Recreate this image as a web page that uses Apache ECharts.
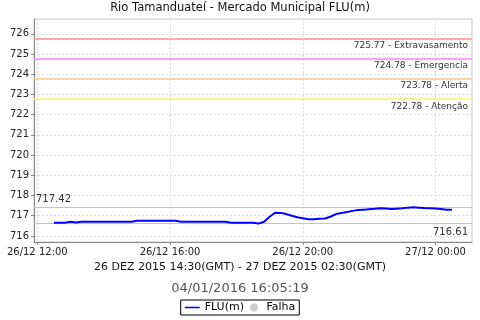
<!DOCTYPE html>
<html><head><meta charset="utf-8">
<script src="https://cdn.jsdelivr.net/npm/echarts@6/dist/echarts.min.js"></script>
<style>html,body{margin:0;padding:0;background:#fff}#c{width:480px;height:320px}</style>
</head><body><div id="c"></div>
<script>
// Times in hours since 26/12/2015 00:00 (local), 10-minute steps 12:30 .. 00:30
const startHour = 12.5;
const stepHours = 1/6;
const fluValues = [
  716.65,716.65,716.65,716.70,716.66,716.70,
  716.70,716.70,716.70,716.70,716.70,716.70,716.70,716.70,716.70,
  716.75,716.75,716.75,716.75,716.75,716.75,716.75,716.75,
  716.70,716.70,716.70,716.70,716.70,716.70,716.70,716.70,716.70,
  716.65,716.65,716.65,716.65,716.65,
  716.61,716.70,716.95,717.15,717.14,717.08,717.00,716.92,716.88,716.83,716.82,716.85,
  716.86,716.95,717.08,717.13,717.18,717.24,717.28,717.30,717.32,717.34,717.37,717.36,
  717.33,717.35,717.37,717.40,717.42,717.40,717.38,717.37,717.36,717.33,717.30,717.29
];
const xTicks = [12, 16, 20, 24];
const yTicks = [716,717,718,719,720,721,722,723,724,725,726];
const thresholdValues = [725.77, 724.78, 723.78, 722.78];
const thresholdNames = ['Extravasamento', 'Emergencia', 'Alerta', 'Atenção'];
const thresholdColors = ['#ff8c8c', '#ff80ff', '#ffc484', '#ffec70'];
const dataMax = 717.42, dataMin = 716.61;
const titleText = 'Rio Tamanduateí - Mercado Municipal FLU(m)';
const periodText = '26 DEZ 2015 14:30(GMT) - 27 DEZ 2015 02:30(GMT)';
const stampText = '04/01/2016 16:05:19';

const seriesData = fluValues.map((v, i) => [startHour + i * stepHours, v]);
const FONT = 'DejaVu Sans';

function fmtX(h) {
  const day = 26 + Math.floor(h / 24);
  const hh = Math.round(h % 24);
  return day + '/12 ' + String(hh).padStart(2, '0') + ':00';
}

const markData = thresholdValues.map((v, i) => ({
  yAxis: v,
  lineStyle: { color: thresholdColors[i], width: 1.5, type: 'solid' },
  label: { show: true, position: 'insideEndBottom', formatter: v.toFixed(2) + ' - ' + thresholdNames[i],
           fontFamily: FONT, fontSize: 9, color: '#333', distance: [4, 3] }
}));
markData.push({ yAxis: dataMax, lineStyle: { color: '#c4c4c4', width: 1, type: 'solid' },
  label: { show: true, position: 'insideStartTop', formatter: dataMax.toFixed(2), fontFamily: FONT, fontSize: 10, color: '#333', distance: [2, 3] } });
markData.push({ yAxis: dataMin, lineStyle: { color: '#c4c4c4', width: 1, type: 'solid' },
  label: { show: true, position: 'insideEndBottom', formatter: dataMin.toFixed(2), fontFamily: FONT, fontSize: 10, color: '#333', distance: [4, 4] } });

const chart = echarts.init(document.getElementById('c'), null, { renderer: 'canvas' });
chart.setOption({
  animation: false,
  backgroundColor: '#fff',
  title: { text: titleText, left: 'center', top: -3,
    textStyle: { fontFamily: FONT, fontSize: 11.5, fontWeight: 'normal', color: '#111' } },
  grid: { left: 34, right: 8, top: 19, bottom: 78, show: true, borderColor: '#c8c8c8', borderWidth: 1,
    containLabel: false, outerBoundsMode: 'none' },
  xAxis: {
    type: 'value', min: 11.9, max: 25.1,
    axisLine: { show: true, lineStyle: { color: '#888', width: 1 } },
    axisTick: { show: true, length: 3, customValues: xTicks, lineStyle: { color: '#888' } },
    axisLabel: { customValues: xTicks, formatter: fmtX, fontFamily: FONT, fontSize: 10, color: '#222', margin: 5 },
    splitLine: { show: true, lineStyle: { color: '#dcdcdc', type: [2, 2] } }
  },
  yAxis: {
    type: 'value', min: 715.7, max: 726.73,
    axisLine: { show: true, lineStyle: { color: '#888', width: 1 } },
    axisTick: { show: true, length: 3, customValues: yTicks, lineStyle: { color: '#888' } },
    axisLabel: { customValues: yTicks, fontFamily: FONT, fontSize: 10, color: '#222', margin: 5 },
    splitLine: { show: true, lineStyle: { color: '#dcdcdc', type: [2, 2] } }
  },
  legend: {
    left: 'center', top: 300, padding: [2, 4], itemGap: 6, itemWidth: 15, itemHeight: 8,
    borderColor: '#000', borderWidth: 1, borderRadius: 0,
    textStyle: { fontFamily: FONT, fontSize: 11, color: '#000' },
    data: [
      { name: 'FLU(m)', icon: 'path://M0,0L0.01,0M0,3.3L15,3.3L15,4.7L0,4.7ZM15,8L14.99,8', itemStyle: { color: '#0000ff' } },
      { name: 'Falha', icon: 'circle', itemStyle: { color: '#c0c0c0' } }
    ]
  },
  graphic: [
    { type: 'text', left: 'center', top: 262, style: { text: periodText, font: '11px "DejaVu Sans"', fill: '#111' } },
    { type: 'text', left: 'center', top: 282, style: { text: stampText, font: '13px "DejaVu Sans"', fill: '#555' } }
  ],
  series: [
    { name: 'FLU(m)', type: 'line', data: seriesData, symbol: 'none', showSymbol: false,
      lineStyle: { color: '#0000ff', width: 2 }, itemStyle: { color: '#0000ff' },
      markLine: { silent: true, symbol: ['none', 'none'], data: markData, animation: false }, z: 5 },
    { name: 'Falha', type: 'scatter', data: [], itemStyle: { color: '#c0c0c0' } }
  ]
});
</script></body></html>
